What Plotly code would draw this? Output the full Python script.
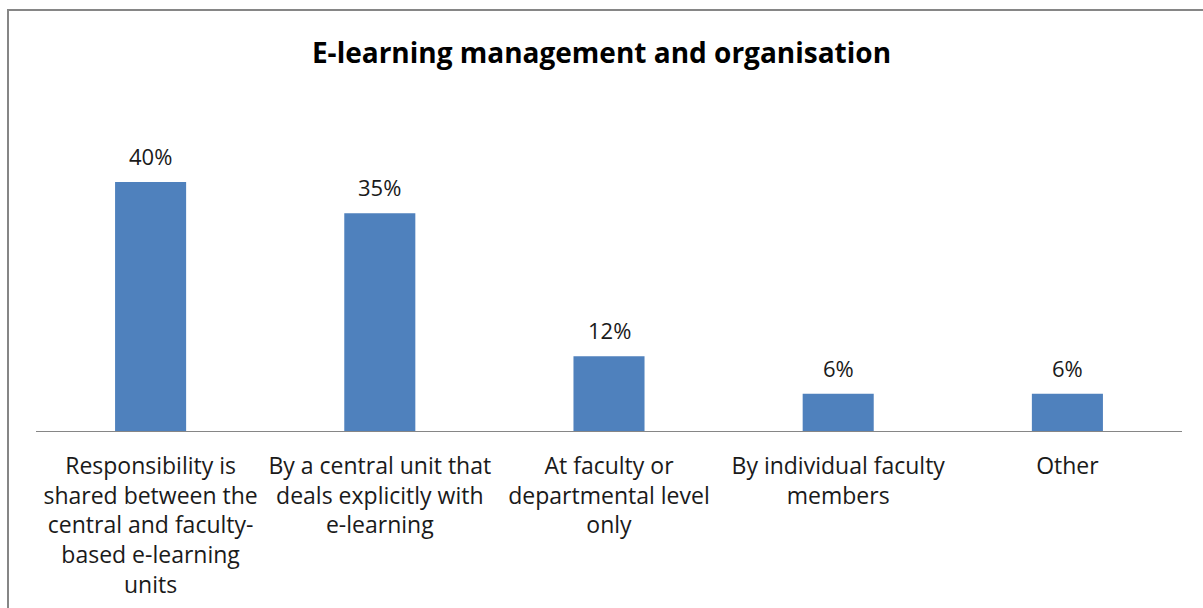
import plotly.graph_objects as go

categories = [
    "Responsibility is<br>shared between the<br>central and faculty-<br>based e-learning<br>units",
    "By a central unit that<br>deals explicitly with<br>e-learning",
    "At faculty or<br>departmental level<br>only",
    "By individual faculty<br>members",
    "Other",
]
values = [40, 35, 12, 6, 6]
value_labels = ["40%", "35%", "12%", "6%", "6%"]
title_text = "E-learning management and organisation"

FONT = "Open Sans"
BAR_COLOR = "#4F81BD"
TEXT_COLOR = "#1a1a1a"

W, H = 1203, 608
L, R, T, B = 36, 21, 120, 177

fig = go.Figure()
fig.add_trace(go.Bar(
    x=list(range(len(categories))),
    y=values,
    marker=dict(color=BAR_COLOR, line=dict(width=0)),
    width=0.31,
    hoverinfo="skip",
))

for i, (v, lab) in enumerate(zip(values, value_labels)):
    fig.add_annotation(
        x=i, y=v, text=lab, showarrow=False,
        xref="x", yref="y", yanchor="bottom", yshift=9,
        font=dict(family=FONT, size=22, color=TEXT_COLOR),
    )

pw = W - L - R
ph = H - T - B
fig.add_shape(
    type="rect", xref="paper", yref="paper",
    x0=(8 - L) / pw, x1=(W + 20 - L) / pw,
    y0=(H - B - (H + 20)) / ph, y1=(H - B - 10) / ph,
    line=dict(color="#868686", width=2), fillcolor="rgba(0,0,0,0)", layer="below",
)

fig.update_layout(
    width=W, height=H,
    margin=dict(l=L, r=R, t=T, b=B, pad=0, autoexpand=False),
    paper_bgcolor="white", plot_bgcolor="white",
    showlegend=False,
    title=dict(
        text="<b>" + title_text + "</b>",
        x=0.5, xref="container", xanchor="center",
        y=1 - 53 / H, yref="container", yanchor="middle",
        font=dict(family=FONT, size=28, color="#000000"),
        automargin=False,
    ),
    xaxis=dict(
        tickmode="array",
        tickvals=list(range(len(categories))),
        ticktext=categories,
        range=[-0.5, len(categories) - 0.5],
        showline=True, linecolor="#868686", linewidth=1,
        showgrid=False, zeroline=False,
        ticks="outside", ticklen=0, tickcolor="white",
        ticklabelstandoff=14,
        tickangle=0,
        automargin=False,
        tickfont=dict(family=FONT, size=23, color=TEXT_COLOR),
        fixedrange=True,
    ),
    yaxis=dict(
        range=[0, ph / 6.225],
        visible=False,
        automargin=False,
        showgrid=False, zeroline=False,
        fixedrange=True,
    ),
)

fig.write_html(
    "out.html",
    config={"displayModeBar": False},
    post_script="document.body.style.margin='0px';document.body.style.padding='0px';",
)
